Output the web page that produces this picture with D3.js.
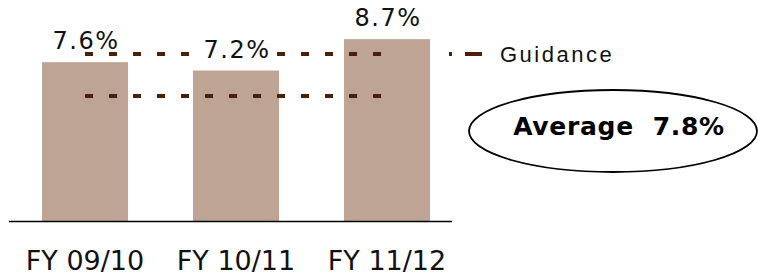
<!DOCTYPE html>
<html>
<head>
<meta charset="utf-8">
<script src="https://cdn.jsdelivr.net/npm/d3@7"></script>
<style>
  html, body { margin: 0; padding: 0; background: #fff; }
  svg { display: block; }
</style>
</head>
<body>
<svg id="chart" width="758" height="277"></svg>
<script>
// data
var categories = ['FY 09/10', 'FY 10/11', 'FY 11/12'];
var values = [7.6, 7.2, 8.7];
var valueLabels = ['7.6%', '7.2%', '8.7%'];
var guidance = [6.0, 8.0]; // low / high guidance band
var legendLabel = 'Guidance';
var averageLabel = 'Average  7.8%';

var svg = d3.select('#chart');
var barColor = '#bea495';
var dashColor = '#4a2106';

var x = d3.scaleBand()
    .domain(categories)
    .range([9.5, 462.5])
    .paddingInner(0.43)
    .paddingOuter(0.215);

var y = d3.scaleLinear()
    .domain([0, 10])
    .range([221, 12]);

// bars
svg.selectAll('rect.bar')
    .data(values)
    .enter().append('rect')
    .attr('class', 'bar')
    .attr('x', function (d, i) { return x(categories[i]); })
    .attr('y', function (d) { return y(d); })
    .attr('width', x.bandwidth())
    .attr('height', function (d) { return y(0) - y(d); })
    .attr('fill', barColor);

// baseline
svg.append('line')
    .attr('x1', 9).attr('x2', 452)
    .attr('y1', y(0) + 0.5).attr('y2', y(0) + 0.5)
    .attr('stroke', '#000')
    .attr('stroke-width', 1.5);

// guidance dashed lines, from first bar centre to last bar centre
var xFirst = x(categories[0]) + x.bandwidth() / 2;
var xLast = x(categories[categories.length - 1]) + x.bandwidth() / 2;
svg.selectAll('line.guide')
    .data(guidance)
    .enter().append('line')
    .attr('class', 'guide')
    .attr('x1', xFirst).attr('x2', xLast)
    .attr('y1', function (d) { return Math.round(y(d)); })
    .attr('y2', function (d) { return Math.round(y(d)); })
    .attr('stroke', dashColor)
    .attr('stroke-width', 4)
    .attr('stroke-dasharray', '8,16');

// value labels (white box behind glyphs, down to the baseline)
var valG = svg.append('g');
var vals = valG.selectAll('g.val')
    .data(values)
    .enter().append('g')
    .attr('class', 'val');
vals.append('rect').attr('fill', '#fff');
vals.append('text')
    .attr('x', function (d, i) { return x(categories[i]) + x.bandwidth() / 2 + 1; })
    .attr('y', function (d) { return y(d) - 13; })
    .attr('text-anchor', 'middle')
    .attr('font-family', 'DejaVu Sans, Verdana, sans-serif')
    .attr('font-size', 24)
    .attr('letter-spacing', 1.5)
    .attr('fill', '#111')
    .text(function (d, i) { return valueLabels[i]; });
vals.each(function (d) {
    var g = d3.select(this);
    var bb = g.select('text').node().getBBox();
    var base = y(d) - 13;
    g.select('rect')
        .attr('x', bb.x)
        .attr('y', bb.y)
        .attr('width', bb.width)
        .attr('height', base + 1 - bb.y);
});

// category labels
svg.selectAll('text.cat')
    .data(categories)
    .enter().append('text')
    .attr('class', 'cat')
    .attr('x', function (d) { return x(d) + x.bandwidth() / 2; })
    .attr('y', 270)
    .attr('text-anchor', 'middle')
    .attr('font-family', 'DejaVu Sans, Verdana, sans-serif')
    .attr('font-size', 27)
    .attr('fill', '#111')
    .text(function (d) { return d; });

// legend
var legY = Math.round(y(guidance[1]));
svg.append('line')
    .attr('x1', 449).attr('x2', 482)
    .attr('y1', legY).attr('y2', legY)
    .attr('stroke', dashColor)
    .attr('stroke-width', 4)
    .attr('stroke-dasharray', '3,13,17');
svg.append('text')
    .attr('x', 500)
    .attr('y', 62)
    .attr('font-family', 'Liberation Sans, Arial, sans-serif')
    .attr('font-size', 22)
    .attr('letter-spacing', 2.5)
    .attr('fill', '#111')
    .text(legendLabel);

// average callout
svg.append('ellipse')
    .attr('cx', 613).attr('cy', 131)
    .attr('rx', 144).attr('ry', 41)
    .attr('fill', 'none')
    .attr('stroke', '#000')
    .attr('stroke-width', 1.8);
svg.append('text')
    .attr('x', 619)
    .attr('y', 135)
    .attr('text-anchor', 'middle')
    .attr('font-family', 'DejaVu Sans, Verdana, sans-serif')
    .attr('font-weight', 'bold')
    .attr('font-size', 25)
    .attr('letter-spacing', 0.7)
    .attr('fill', '#000')
    .style('white-space', 'pre')
    .text(averageLabel);
</script>
</body>
</html>
